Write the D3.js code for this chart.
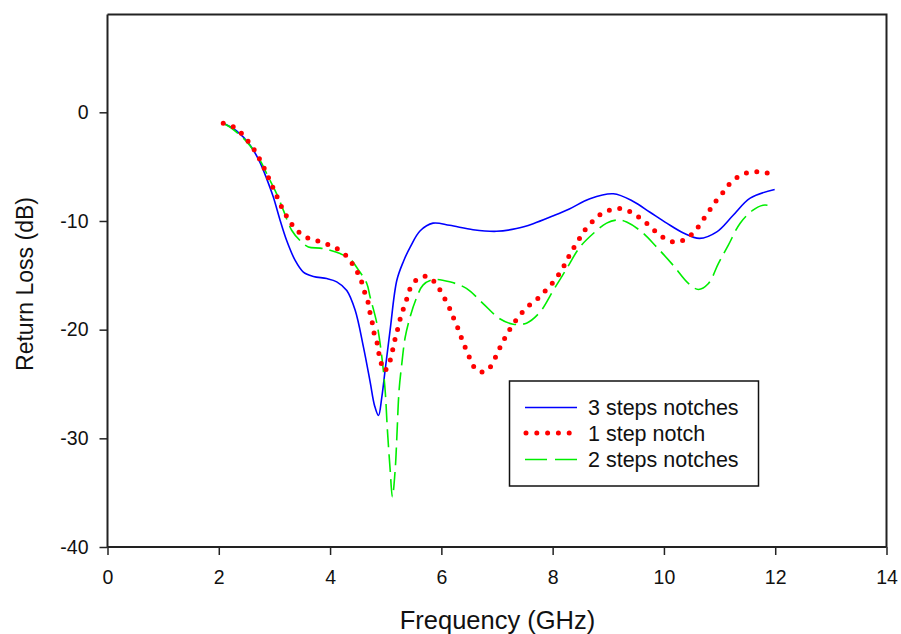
<!DOCTYPE html>
<html>
<head>
<meta charset="utf-8">
<script src="https://cdn.jsdelivr.net/npm/d3@7"></script>
<style>
  body { margin: 0; background: #fff; }
  svg { display: block; }
  text { font-family: Arial, "Liberation Sans", sans-serif; fill: #111; }
</style>
</head>
<body>
<svg id="chart" width="901" height="634"></svg>
<script>
// ---- Data ----
const xTicks = [0, 2, 4, 6, 8, 10, 12, 14];
const yTicks = [0, -10, -20, -30, -40];
const seriesNames = ["3 steps notches", "1 step notch", "2 steps notches"];

// 3 steps notches: [frequency GHz, return loss dB]
const threeSteps = [
  [2.08,-1.0],[2.32,-1.7],[2.56,-3.0],[2.74,-4.6],[2.86,-6.1],[2.98,-7.8],[3.1,-9.9],
  [3.22,-11.8],[3.37,-13.6],[3.52,-14.7],[3.7,-15.1],[3.94,-15.3],[4.12,-15.6],[4.3,-16.4],
  [4.45,-18.2],[4.6,-21.6],[4.72,-24.8],[4.8,-27.0],[4.87,-27.9],[4.93,-26.2],[4.99,-23.7],
  [5.08,-20.0],[5.2,-15.45],[5.32,-13.7],[5.44,-12.4],[5.62,-10.9],[5.85,-10.2],[6.15,-10.4],
  [6.57,-10.8],[6.99,-10.95],[7.35,-10.7],[7.65,-10.25],[8.0,-9.55],[8.3,-8.9],[8.67,-7.95],
  [9.09,-7.5],[9.45,-8.2],[9.75,-9.2],[10.05,-10.2],[10.35,-11.1],[10.64,-11.6],[10.95,-11.0],
  [11.24,-9.5],[11.55,-7.9],[11.99,-7.1]
];

// 1 step notch
const oneStep = [
  [2.08,-1.0],[2.27,-1.35],[2.44,-2.1],[2.56,-2.9],[2.68,-3.8],[2.77,-4.7],[2.86,-5.6],
  [2.93,-6.5],[3.01,-7.3],[3.08,-8.2],[3.17,-9.1],[3.27,-10.0],[3.4,-10.85],[3.57,-11.5],
  [3.75,-11.8],[3.93,-12.1],[4.11,-12.5],[4.29,-13.2],[4.42,-14.1],[4.51,-14.9],[4.58,-15.8],
  [4.63,-16.7],[4.69,-17.6],[4.72,-18.5],[4.76,-19.4],[4.79,-20.3],[4.84,-21.1],[4.87,-22.0],
  [4.91,-22.9],[4.97,-23.8],[5.06,-23.2],[5.1,-22.3],[5.15,-21.4],[5.18,-20.5],[5.23,-19.7],
  [5.27,-18.8],[5.33,-17.9],[5.39,-17.0],[5.45,-16.1],[5.58,-15.3],[5.75,-15.1],[5.92,-15.9],
  [6.02,-16.8],[6.12,-17.7],[6.19,-18.6],[6.26,-19.4],[6.33,-20.3],[6.39,-21.2],[6.47,-22.1],
  [6.54,-23.0],[6.65,-23.8],[6.81,-23.8],[6.93,-23.0],[7.01,-22.1],[7.09,-21.3],[7.18,-20.4],
  [7.29,-19.5],[7.42,-18.6],[7.57,-17.8],[7.74,-17.1],[7.89,-16.3],[8.03,-15.5],[8.15,-14.6],
  [8.25,-13.7],[8.33,-12.85],[8.44,-12.0],[8.54,-11.1],[8.68,-10.25],[8.83,-9.5],[9.02,-9.0],
  [9.21,-8.86],[9.39,-9.15],[9.56,-9.7],[9.73,-10.4],[9.88,-11.1],[10.05,-11.7],[10.23,-11.95],
  [10.41,-11.6],[10.57,-10.85],[10.7,-9.9],[10.81,-9.1],[10.93,-8.2],[11.07,-7.33],[11.2,-6.47],
  [11.38,-5.8],[11.56,-5.5],[11.76,-5.5],[11.94,-5.7]
];

// 2 steps notches
const twoSteps = [
  [2.08,-1.0],[2.2,-1.35],[2.5,-2.7],[2.74,-4.4],[2.89,-5.95],[3.04,-7.5],[3.16,-9.0],
  [3.31,-10.85],[3.46,-11.8],[3.61,-12.4],[3.82,-12.5],[4.0,-12.7],[4.18,-13.0],[4.36,-13.5],
  [4.51,-14.5],[4.66,-15.75],[4.72,-17.0],[4.84,-19.4],[4.93,-22.5],[4.99,-25.6],[5.03,-29.2],
  [5.08,-32.9],[5.12,-35.4],[5.17,-32.9],[5.2,-29.9],[5.24,-25.6],[5.29,-23.1],[5.35,-20.7],
  [5.44,-18.8],[5.56,-17.0],[5.67,-15.9],[5.85,-15.4],[6.15,-15.6],[6.45,-16.2],[6.75,-17.6],
  [7.05,-19.0],[7.29,-19.5],[7.53,-19.4],[7.77,-18.4],[8.01,-16.4],[8.25,-14.4],[8.49,-12.4],
  [8.73,-11.15],[8.97,-10.2],[9.18,-9.9],[9.33,-10.1],[9.6,-11.0],[9.87,-12.4],[10.17,-14.1],
  [10.44,-15.75],[10.62,-16.3],[10.8,-15.75],[10.98,-13.9],[11.16,-12.2],[11.37,-10.2],
  [11.6,-9.0],[11.78,-8.55],[11.98,-8.64]
];

// ---- Layout ----
const svg = d3.select("#chart");
const plotL = 107.5, plotR = 886.5, plotT = 14.5, plotB = 547;

const x = d3.scaleLinear().domain([0, 14]).range([plotL, plotR]);
const y = d3.scaleLinear().domain([-40, 9]).range([plotB, plotT]);

// Frame (top and right)
svg.append("path")
  .attr("d", `M${plotL},${plotT}H${plotR}V${plotB}`)
  .attr("fill", "none").attr("stroke", "#222").attr("stroke-width", 2);

// Axes
const xAxis = d3.axisBottom(x).tickValues(xTicks).tickFormat(d3.format("d"))
  .tickSize(8).tickSizeOuter(0).tickPadding(15);
const yAxis = d3.axisLeft(y).tickValues(yTicks).tickFormat(d => d < 0 ? "-" + Math.abs(d) : String(d))
  .tickSize(8).tickSizeOuter(0).tickPadding(11);

const gx = svg.append("g").attr("transform", `translate(0,${plotB})`).call(xAxis);
const gy = svg.append("g").attr("transform", `translate(${plotL},0)`).call(yAxis);

[gx, gy].forEach(g => {
  g.select(".domain").attr("stroke", "#222").attr("stroke-width", 2);
  g.selectAll(".tick line").attr("stroke", "#222").attr("stroke-width", 1.5);
  g.selectAll(".tick text").attr("font-size", 19.5).attr("fill", "#111")
    .attr("font-family", 'Arial, "Liberation Sans", sans-serif');
});
gy.select(".domain").attr("d", `M0,${plotB}V${plotT}`);
gx.select(".domain").attr("d", `M${plotL},0H${plotR}`);

// Axis titles
svg.append("text")
  .attr("x", 497.5).attr("y", 629)
  .attr("text-anchor", "middle").attr("font-size", 25.5)
  .text("Frequency (GHz)");

svg.append("text")
  .attr("transform", "translate(33,284) rotate(-90)")
  .attr("text-anchor", "middle").attr("font-size", 23)
  .text("Return Loss (dB)");

// Lines
const line = d3.line().x(d => x(d[0])).y(d => y(d[1])).curve(d3.curveCatmullRom.alpha(0.5));

svg.append("path").datum(threeSteps)
  .attr("d", line).attr("fill", "none")
  .attr("stroke", "#0000ff").attr("stroke-width", 1.6);

svg.append("path").datum(twoSteps)
  .attr("d", line).attr("fill", "none")
  .attr("stroke", "#00ee00").attr("stroke-width", 1.6)
  .attr("stroke-dasharray", "18 7");

svg.append("path").datum(oneStep)
  .attr("d", line).attr("fill", "none")
  .attr("stroke", "#ff0000").attr("stroke-width", 5)
  .attr("stroke-linecap", "round")
  .attr("stroke-dasharray", "0 10.5");

// Legend
const lg = svg.append("g");
lg.append("rect").attr("x", 509.5).attr("y", 381).attr("width", 249).attr("height", 105)
  .attr("fill", "#fff").attr("stroke", "#111").attr("stroke-width", 1.5);

const legendStyles = [
  { color: "#0000ff", width: 1.6, dash: null, cap: "butt" },
  { color: "#ff0000", width: 5, dash: "0 10.8", cap: "round" },
  { color: "#00ee00", width: 1.6, dash: "22 8", cap: "butt" }
];
const rowY = [407.5, 433, 459.5];
seriesNames.forEach((name, i) => {
  const s = legendStyles[i];
  const ln = lg.append("line")
    .attr("x1", i === 1 ? 526 : 525).attr("x2", 577)
    .attr("y1", rowY[i]).attr("y2", rowY[i])
    .attr("stroke", s.color).attr("stroke-width", s.width)
    .attr("stroke-linecap", s.cap);
  if (s.dash) ln.attr("stroke-dasharray", s.dash);
  lg.append("text")
    .attr("x", 588).attr("y", rowY[i]).attr("dy", "0.36em")
    .attr("font-size", 21.5)
    .text(name);
});
</script>
</body>
</html>
